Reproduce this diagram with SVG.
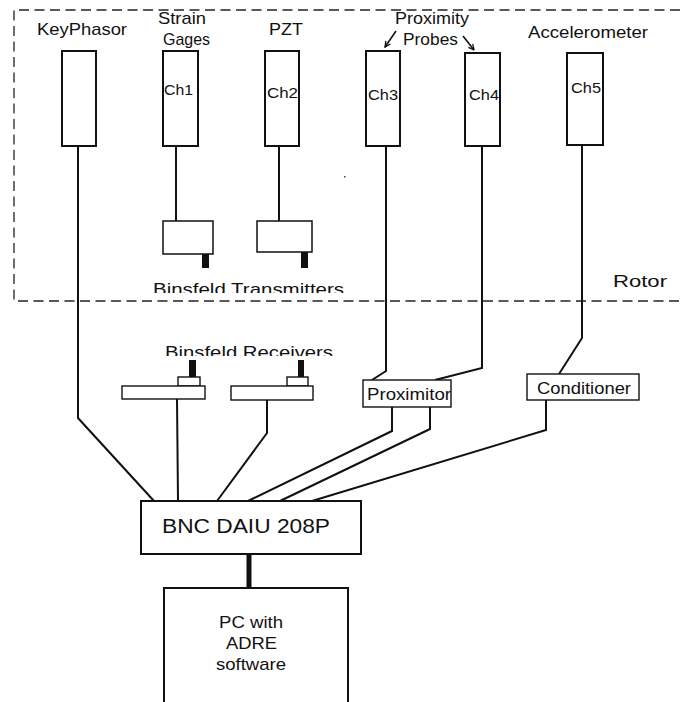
<svg xmlns="http://www.w3.org/2000/svg" width="680" height="702" viewBox="0 0 680 702">
<style>
text{font-family:"Liberation Sans",Arial,sans-serif;fill:#111}
.lbl{font-size:17px}
.ch{font-size:15.5px}
.box{fill:#fff;stroke:#111;stroke-width:2}
.thin{fill:#fff;stroke:#111;stroke-width:1.4}
.tab{fill:#111}
.wire{fill:none;stroke:#111;stroke-width:2;stroke-linejoin:miter}
.arr{fill:none;stroke:#111;stroke-width:1.6}
</style>
<defs>
<marker id="ah" viewBox="0 0 10 10" refX="9" refY="5" markerWidth="7" markerHeight="7" orient="auto" markerUnits="userSpaceOnUse">
<path d="M1,1 L9,5 L1,9" fill="none" stroke="#111" stroke-width="1.8"/>
</marker>
<clipPath id="clipT"><rect x="0" y="0" width="680" height="293"/></clipPath>
<clipPath id="clipR"><rect x="0" y="320" width="680" height="36"/></clipPath>
</defs>

<g id="rotor">
<path d="M680,10 H14 V301 H680" fill="none" stroke="#222" stroke-width="1.3" stroke-dasharray="10 5.5"/>
<text x="613" y="287" font-size="17" textLength="54" lengthAdjust="spacingAndGlyphs">Rotor</text>
</g>

<g id="connectors">
<path class="wire" d="M78,146 V418 L154,501"/>
<path class="wire" d="M176,146 V221"/>
<path class="wire" d="M279,146 V221"/>
<path class="wire" d="M386,146 V371 L372,380"/>
<path class="wire" d="M482,146 V368 L435,380"/>
<path class="wire" d="M582,145 V338 L559,374"/>
<path class="wire" d="M177,399 L178,501"/>
<path class="wire" d="M267,400 V433 L217,501"/>
<path class="wire" d="M392,407 V431 L248,501"/>
<path class="wire" d="M430,407 V429 L280,501"/>
<path class="wire" d="M546,400 V430 L312,501"/>
<path d="M249,554 V588" stroke="#111" stroke-width="5" fill="none"/>
<path class="arr" d="M396,31 L385,47" marker-end="url(#ah)"/>
<path class="arr" d="M463,36 L474,50" marker-end="url(#ah)"/>
</g>

<g id="keyphasor">
<rect class="box" x="62" y="51" width="34" height="95"/>
<text class="lbl" x="37" y="35" textLength="90" lengthAdjust="spacingAndGlyphs">KeyPhasor</text>
</g>
<g id="strain-gages">
<rect class="box" x="163" y="51" width="35" height="95"/>
<text class="lbl" x="158" y="24" textLength="48" lengthAdjust="spacingAndGlyphs">Strain</text>
<text class="lbl" x="163" y="45" textLength="47" lengthAdjust="spacingAndGlyphs">Gages</text>
<text class="ch" x="164" y="95" textLength="29" lengthAdjust="spacingAndGlyphs">Ch1</text>
</g>
<g id="pzt">
<rect class="box" x="265" y="51" width="34" height="95"/>
<text class="lbl" x="269" y="35" textLength="34" lengthAdjust="spacingAndGlyphs">PZT</text>
<text class="ch" x="267" y="98" textLength="31" lengthAdjust="spacingAndGlyphs">Ch2</text>
</g>
<g id="probe-ch3">
<rect class="box" x="366" y="51" width="34" height="95"/>
<text class="ch" x="368" y="100" textLength="30" lengthAdjust="spacingAndGlyphs">Ch3</text>
</g>
<g id="probe-ch4">
<rect class="box" x="465" y="53" width="35" height="93"/>
<text class="ch" x="469" y="100" textLength="30" lengthAdjust="spacingAndGlyphs">Ch4</text>
</g>
<g id="proximity-probes-label">
<text class="lbl" x="395" y="24" textLength="74" lengthAdjust="spacingAndGlyphs">Proximity</text>
<text class="lbl" x="403" y="45" textLength="55" lengthAdjust="spacingAndGlyphs">Probes</text>
</g>
<g id="accelerometer">
<rect class="box" x="567" y="53" width="36" height="92"/>
<text class="lbl" x="528" y="38" textLength="120" lengthAdjust="spacingAndGlyphs">Accelerometer</text>
<text class="ch" x="571" y="93" textLength="30" lengthAdjust="spacingAndGlyphs">Ch5</text>
</g>

<g id="transmitter-1">
<rect x="163" y="221" width="50" height="33" fill="#fff" stroke="#111" stroke-width="1.5"/>
<rect class="tab" x="202" y="254" width="7" height="14"/>
</g>
<g id="transmitter-2">
<rect x="257" y="221" width="55" height="31" fill="#fff" stroke="#111" stroke-width="1.5"/>
<rect class="tab" x="301" y="252" width="7" height="16"/>
</g>
<g id="transmitters-label">
<text x="153" y="295" font-size="17" textLength="191" lengthAdjust="spacingAndGlyphs" clip-path="url(#clipT)">Binsfeld Transmitters</text>
</g>

<g id="receivers-label">
<text x="165" y="358" font-size="17" textLength="168" lengthAdjust="spacingAndGlyphs" clip-path="url(#clipR)">Binsfeld Receivers</text>
</g>
<g id="receiver-1">
<rect class="tab" x="189" y="360" width="7" height="17"/>
<rect class="thin" x="178" y="377" width="22" height="9"/>
<rect class="thin" x="122" y="386" width="83" height="13"/>
</g>
<g id="receiver-2">
<rect class="tab" x="298" y="360" width="6" height="17"/>
<rect class="thin" x="287" y="377" width="21" height="9"/>
<rect class="thin" x="231" y="386" width="82" height="14"/>
</g>

<g id="proximitor">
<rect class="thin" x="363" y="380" width="88" height="27"/>
<text x="367" y="400" font-size="17" textLength="84" lengthAdjust="spacingAndGlyphs">Proximitor</text>
</g>
<g id="conditioner">
<rect class="thin" x="527" y="374" width="112" height="26"/>
<text x="537" y="394" font-size="17" textLength="94" lengthAdjust="spacingAndGlyphs">Conditioner</text>
</g>

<g id="bnc-daiu">
<rect class="box" x="141" y="501" width="220" height="53"/>
<text x="162" y="533" font-size="20" textLength="168" lengthAdjust="spacingAndGlyphs">BNC DAIU 208P</text>
</g>

<g id="pc">
<path d="M164,702 V588 H348 V702" fill="#fff" stroke="#111" stroke-width="2"/>
<text class="lbl" x="219" y="628" textLength="64" lengthAdjust="spacingAndGlyphs">PC with</text>
<text class="lbl" x="226" y="649" textLength="51" lengthAdjust="spacingAndGlyphs">ADRE</text>
<text class="lbl" x="216" y="670" textLength="70" lengthAdjust="spacingAndGlyphs">software</text>
</g>

<rect x="344" y="176" width="1.5" height="1.5" fill="#444"/>
</svg>
